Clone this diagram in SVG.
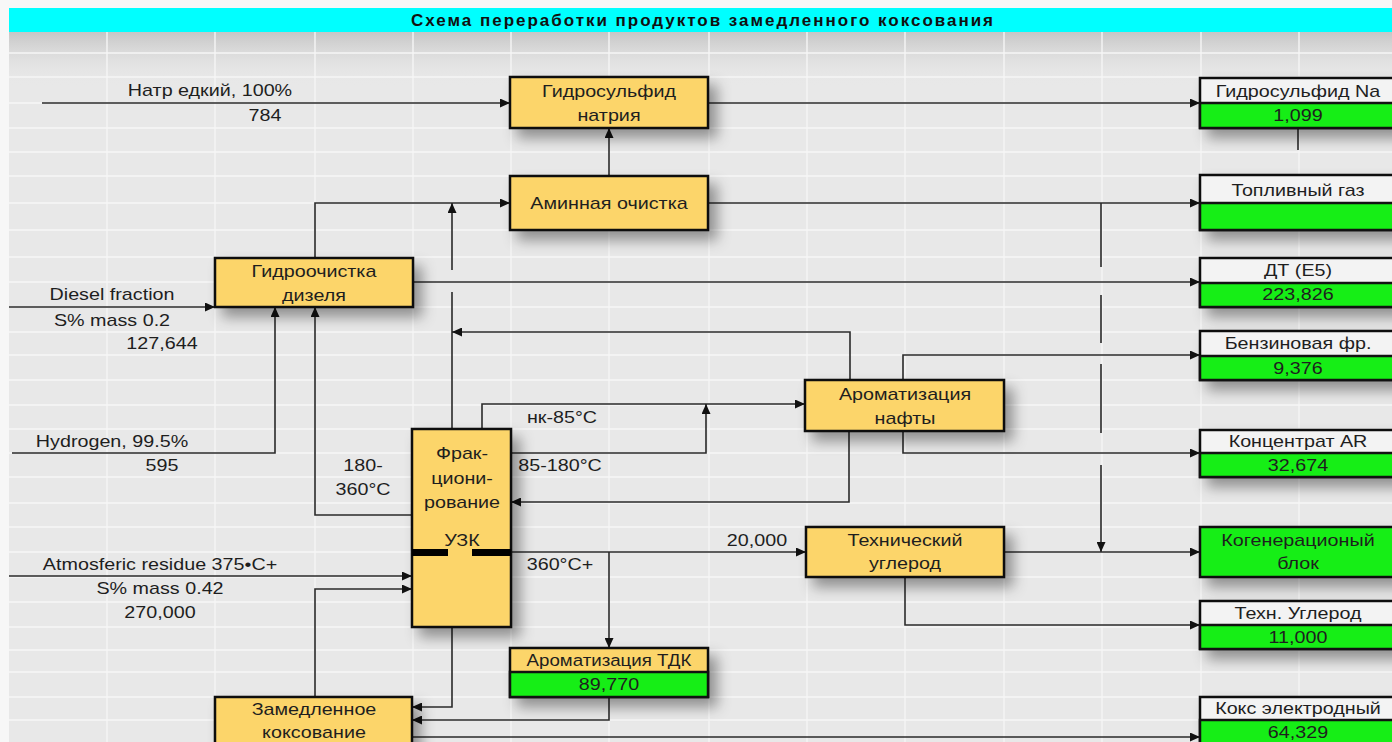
<svg xmlns="http://www.w3.org/2000/svg" width="1392" height="742" viewBox="0 0 1392 742">
<defs>
<style>
.t{font-family:"Liberation Sans",Arial,sans-serif;font-size:17px;fill:#1e1e1e;text-anchor:middle}
.ttl{font-family:"Liberation Sans",Arial,sans-serif;font-size:17px;font-weight:bold;fill:#111;text-anchor:middle}
.y{fill:#FCD56A;stroke:#111;stroke-width:2.5}
.g{fill:#16EE16;stroke:#111;stroke-width:2.5}
.w{fill:#F3F3F3;stroke:#111;stroke-width:2.5}
.c{fill:none;stroke:#2a2a2a;stroke-width:1.6}
.grid{fill:none;stroke:#f6f6f6;stroke-width:1.4}
.bar{fill:#000}
</style>
<marker id="ah" markerUnits="userSpaceOnUse" markerWidth="11" markerHeight="9" refX="10" refY="4.5" orient="auto">
<path d="M0,0 L10,4.5 L0,9 z" fill="#111"/>
</marker>
<filter id="sh" x="-30%" y="-40%" width="170%" height="200%">
<feDropShadow dx="8" dy="9" stdDeviation="7" flood-color="#000" flood-opacity="0.38"/>
</filter>
<linearGradient id="topfade" x1="0" y1="0" x2="0" y2="1">
<stop offset="0" stop-color="#c4c4c4" stop-opacity="0.95"/>
<stop offset="1" stop-color="#e9e9e9" stop-opacity="0"/>
</linearGradient>
</defs>

<!-- background sheet -->
<rect x="0" y="0" width="1392" height="742" fill="#f7f7f7"/>
<rect x="9" y="32" width="1383" height="710" fill="#e8e8e8"/>
<rect x="9" y="32" width="1383" height="55" fill="url(#topfade)"/>
<path class="grid" d="M9,53H1392M9,77H1392M9,103H1392M9,128H1392M9,152H1392M9,176H1392M9,203H1392M9,230H1392M9,257H1392M9,282H1392M9,307H1392M9,332H1392M9,355H1392M9,380H1392M9,405H1392M9,429H1392M9,453H1392M9,477H1392M9,503H1392M9,527H1392M9,552H1392M9,577H1392M9,602H1392M9,627H1392M9,650H1392M9,672H1392M9,697H1392M9,720H1392
M107,32V742M215,32V742M315,32V742M413,32V742M511,32V742M609,32V742M709,32V742M807,32V742M905,32V742M1004,32V742M1102,32V742M1201,32V742M1299,32V742"/>

<!-- title -->
<g id="title">
<rect x="9" y="8" width="1383" height="24" fill="#00FFFF"/>
<text class="ttl" x="702" y="26" textLength="582" lengthAdjust="spacing">Схема переработки продуктов замедленного коксования</text>
</g>

<!-- connectors -->
<g id="connectors">
<path class="c" d="M42,103H510" marker-end="url(#ah)"/>
<path class="c" d="M708,103H1200" marker-end="url(#ah)"/>
<path class="c" d="M609,176V128" marker-end="url(#ah)"/>
<path class="c" d="M315,258V203H510" marker-end="url(#ah)"/>
<path class="c" d="M452,429V292M452,270V203" marker-end="url(#ah)"/>
<path class="c" d="M413,282H1200" marker-end="url(#ah)"/>
<path class="c" d="M9,307H215" marker-end="url(#ah)"/>
<path class="c" d="M12,453H275V307" marker-end="url(#ah)"/>
<path class="c" d="M412,515H315V307" marker-end="url(#ah)"/>
<path class="c" d="M482,429V404H805" marker-end="url(#ah)"/>
<path class="c" d="M511,453H706V404" marker-end="url(#ah)"/>
<path class="c" d="M849,431V502H511" marker-end="url(#ah)"/>
<path class="c" d="M850,380V332H452" marker-end="url(#ah)"/>
<path class="c" d="M903,380V355H1200" marker-end="url(#ah)"/>
<path class="c" d="M903,431V453H1200" marker-end="url(#ah)"/>
<path class="c" d="M708,203H1200" marker-end="url(#ah)"/>
<path class="c" d="M1101,203V267M1101,295V343M1101,364V433M1101,465V552" marker-end="url(#ah)"/>
<path class="c" d="M1004,552H1200" marker-end="url(#ah)"/>
<path class="c" d="M905,577V625H1200" marker-end="url(#ah)"/>
<path class="c" d="M511,552H806" marker-end="url(#ah)"/>
<path class="c" d="M609,552V648" marker-end="url(#ah)"/>
<path class="c" d="M9,576H412" marker-end="url(#ah)"/>
<path class="c" d="M315,697V589H412" marker-end="url(#ah)"/>
<path class="c" d="M452,627V707H412" marker-end="url(#ah)"/>
<path class="c" d="M609,697V720H412" marker-end="url(#ah)"/>
<path class="c" d="M412,737H1200" marker-end="url(#ah)"/>
<path class="c" d="M1298,128V150" stroke="#666"/>
</g>

<!-- connector labels -->
<g id="labels">
<text class="t" transform="translate(210 96) scale(1.16 1)">Натр едкий, 100%</text>
<text class="t" transform="translate(265 121) scale(1.16 1)">784</text>
<text class="t" transform="translate(112 300) scale(1.16 1)">Diesel fraction</text>
<text class="t" transform="translate(112 326) scale(1.16 1)">S% mass 0.2</text>
<text class="t" transform="translate(162 349) scale(1.16 1)">127,644</text>
<text class="t" transform="translate(112 447) scale(1.16 1)">Hydrogen, 99.5%</text>
<text class="t" transform="translate(162 471) scale(1.16 1)">595</text>
<text class="t" transform="translate(363 471) scale(1.16 1)">180-</text>
<text class="t" transform="translate(363 495) scale(1.16 1)">360°C</text>
<text class="t" transform="translate(562 423) scale(1.16 1)">нк-85°C</text>
<text class="t" transform="translate(560 471) scale(1.16 1)">85-180°C</text>
<text class="t" transform="translate(757 546) scale(1.16 1)">20,000</text>
<text class="t" transform="translate(560 570) scale(1.16 1)">360°C+</text>
<text class="t" transform="translate(160 570) scale(1.16 1)">Atmosferic residue 375•C+</text>
<text class="t" transform="translate(160 594) scale(1.16 1)">S% mass 0.42</text>
<text class="t" transform="translate(160 618) scale(1.16 1)">270,000</text>
</g>

<!-- process nodes -->
<g id="n-hydrosulfide">
<rect class="y" x="510" y="77" width="198" height="51" filter="url(#sh)"/>
<text class="t" transform="translate(609 97) scale(1.16 1)">Гидросульфид</text>
<text class="t" transform="translate(609 121) scale(1.16 1)">натрия</text>
</g>
<g id="n-amine">
<rect class="y" x="510" y="176" width="198" height="54" filter="url(#sh)"/>
<text class="t" transform="translate(609 209) scale(1.16 1)">Аминная очистка</text>
</g>
<g id="n-hydrotreat">
<rect class="y" x="215" y="258" width="198" height="49" filter="url(#sh)"/>
<text class="t" transform="translate(314 277) scale(1.16 1)">Гидроочистка</text>
<text class="t" transform="translate(314 301) scale(1.16 1)">дизеля</text>
</g>
<g id="n-fract">
<rect class="y" x="412" y="429" width="99" height="198" filter="url(#sh)"/>
<text class="t" transform="translate(462 459) scale(1.16 1)">Фрак-</text>
<text class="t" transform="translate(462 484) scale(1.16 1)">циони-</text>
<text class="t" transform="translate(462 508) scale(1.16 1)">рование</text>
<text class="t" transform="translate(462 546) scale(1.16 1)">УЗК</text>
<rect class="bar" x="412" y="549" width="36" height="7"/>
<rect class="bar" x="472" y="549" width="39" height="7"/>
</g>
<g id="n-arom-naphtha">
<rect class="y" x="805" y="380" width="199" height="51" filter="url(#sh)"/>
<text class="t" transform="translate(905 400) scale(1.16 1)">Ароматизация</text>
<text class="t" transform="translate(905 424) scale(1.16 1)">нафты</text>
</g>
<g id="n-carbon">
<rect class="y" x="806" y="527" width="198" height="50" filter="url(#sh)"/>
<text class="t" transform="translate(905 546) scale(1.16 1)">Технический</text>
<text class="t" transform="translate(905 569) scale(1.16 1)">углерод</text>
</g>
<g id="n-arom-tdk">
<rect class="y" x="510" y="648" width="198" height="49" filter="url(#sh)"/>
<rect class="g" x="510" y="672" width="198" height="25"/>
<text class="t" transform="translate(609 666) scale(1.1 1)">Ароматизация ТДК</text>
<text class="t" transform="translate(609 690) scale(1.16 1)">89,770</text>
</g>
<g id="n-coking">
<rect class="y" x="215" y="697" width="197" height="52" filter="url(#sh)"/>
<text class="t" transform="translate(314 715) scale(1.16 1)">Замедленное</text>
<text class="t" transform="translate(314 738) scale(1.16 1)">коксование</text>
</g>

<!-- product boxes -->
<g id="p-nahs">
<rect class="w" x="1200" y="78" width="198" height="50" filter="url(#sh)"/>
<rect class="g" x="1200" y="103" width="198" height="25"/>
<text class="t" transform="translate(1298 97) scale(1.16 1)">Гидросульфид Na</text>
<text class="t" transform="translate(1298 121) scale(1.16 1)">1,099</text>
</g>
<g id="p-fuelgas">
<rect class="w" x="1200" y="175" width="198" height="55" filter="url(#sh)"/>
<rect class="g" x="1200" y="203" width="198" height="27"/>
<text class="t" transform="translate(1298 196) scale(1.16 1)">Топливный газ</text>
</g>
<g id="p-dt">
<rect class="w" x="1200" y="258" width="198" height="49" filter="url(#sh)"/>
<rect class="g" x="1200" y="283" width="198" height="24"/>
<text class="t" transform="translate(1298 276) scale(1.16 1)">ДТ (Е5)</text>
<text class="t" transform="translate(1298 300) scale(1.16 1)">223,826</text>
</g>
<g id="p-gasoline">
<rect class="w" x="1200" y="331" width="198" height="49" filter="url(#sh)"/>
<rect class="g" x="1200" y="356" width="198" height="24"/>
<text class="t" transform="translate(1298 349) scale(1.16 1)">Бензиновая фр.</text>
<text class="t" transform="translate(1298 374) scale(1.16 1)">9,376</text>
</g>
<g id="p-ar">
<rect class="w" x="1200" y="430" width="198" height="47" filter="url(#sh)"/>
<rect class="g" x="1200" y="453" width="198" height="24"/>
<text class="t" transform="translate(1298 447) scale(1.16 1)">Концентрат AR</text>
<text class="t" transform="translate(1298 471) scale(1.16 1)">32,674</text>
</g>
<g id="p-cogen">
<rect class="g" x="1200" y="527" width="198" height="50" filter="url(#sh)"/>
<text class="t" transform="translate(1298 546) scale(1.16 1)">Когенерационый</text>
<text class="t" transform="translate(1298 569) scale(1.16 1)">блок</text>
</g>
<g id="p-techcarbon">
<rect class="w" x="1200" y="601" width="198" height="48" filter="url(#sh)"/>
<rect class="g" x="1200" y="625" width="198" height="24"/>
<text class="t" transform="translate(1298 619) scale(1.16 1)">Техн. Углерод</text>
<text class="t" transform="translate(1298 643) scale(1.16 1)">11,000</text>
</g>
<g id="p-coke">
<rect class="w" x="1200" y="697" width="198" height="55" filter="url(#sh)"/>
<rect class="g" x="1200" y="720" width="198" height="32"/>
<text class="t" transform="translate(1298 714) scale(1.16 1)">Кокс электродный</text>
<text class="t" transform="translate(1298 738) scale(1.16 1)">64,329</text>
</g>
</svg>
